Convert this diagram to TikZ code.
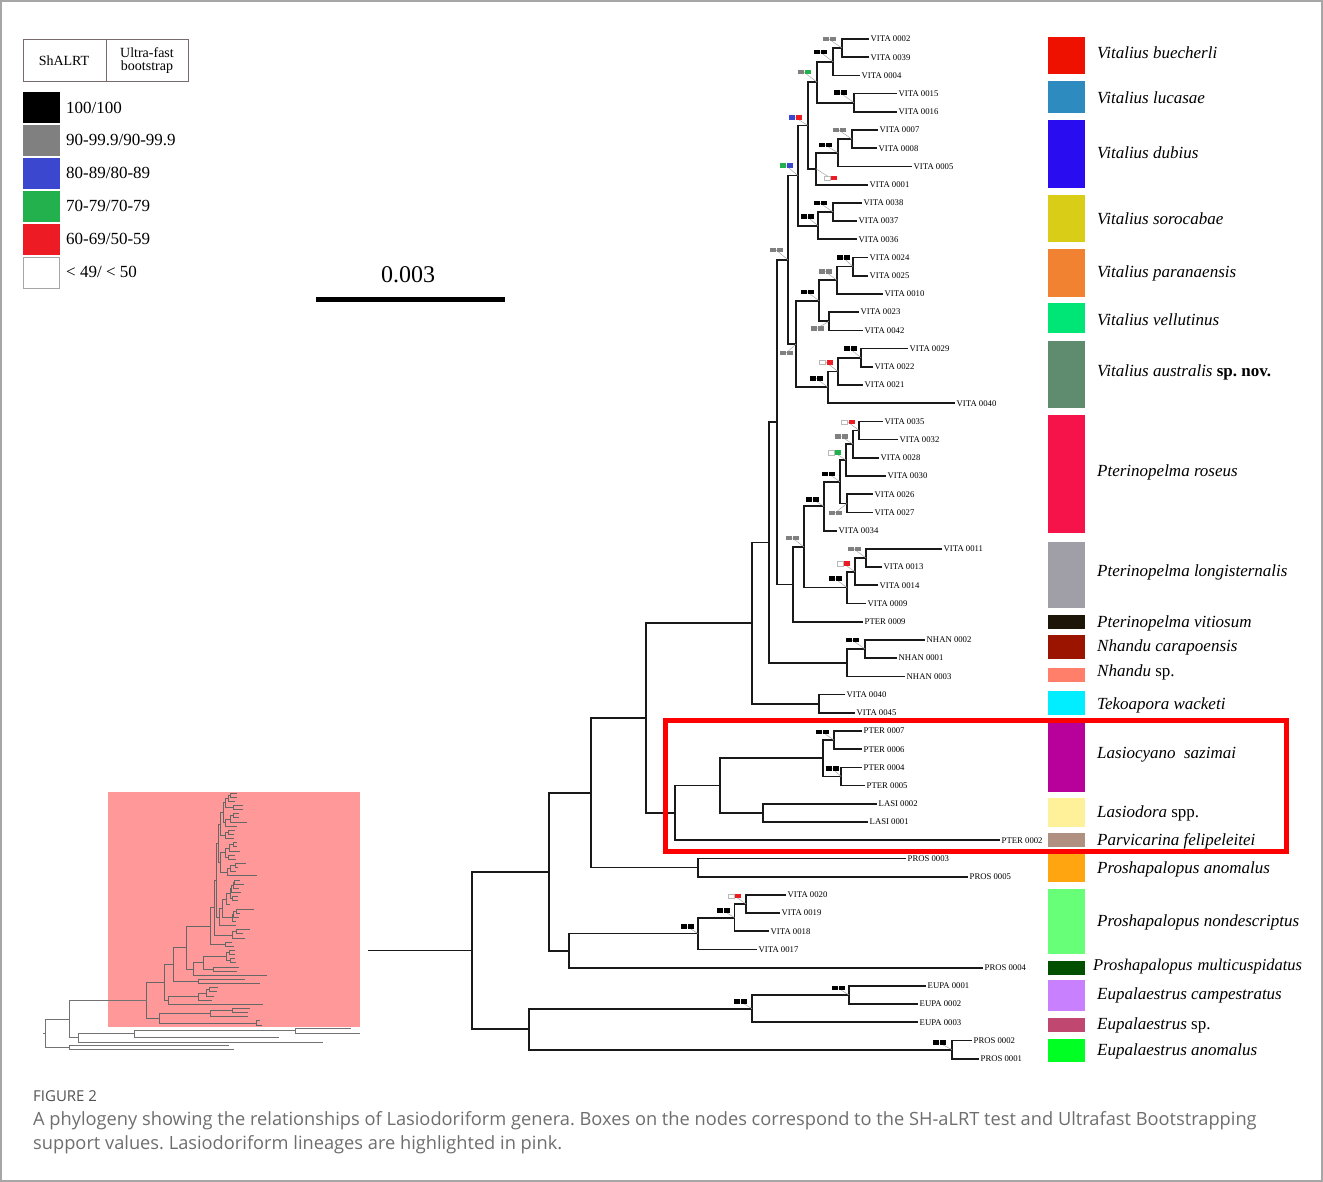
\documentclass[tikz,border=0pt]{standalone}
\usepackage{fontspec}
\setmainfont{Liberation Serif}
\newfontfamily\capfont{Open Sans}
\usetikzlibrary{calc}
\frenchspacing
\definecolor{sgray}{HTML}{808080}
\definecolor{sblue}{HTML}{3B47CE}
\definecolor{sgreen}{HTML}{22B14C}
\definecolor{sred}{HTML}{ED1C24}
\definecolor{pinkbox}{HTML}{FF9999}
\definecolor{capgray}{HTML}{6E6E6E}
\definecolor{legline}{HTML}{776B6B}

\newcommand\treebody{%
  \foreach \i/\tx in {0/869,1/869,2/860,3/897,4/897,5/878,6/877,7/912,8/868,9/862,10/857,11/857,
    12/868,13/868,14/883,15/859,16/863,17/908,18/873,19/863,20/955,21/883,22/898,23/879,24/886,
    25/873,26/873,27/837,28/942,29/882,30/878,31/866,32/863,33/925,34/897,35/905,36/845,37/855,
    38/862,39/862,40/862,41/865,42/877,43/868,44/1000,45/906,46/968,47/786,48/780,49/769,50/757,
    51/983,52/926,53/918,54/918,55/972,56/979}
    {\coordinate (t\i) at (\tx,{39+18.21*\i});}
  \foreach \n/\x/\y in {n1/842/48.1,n2/833/61.8,n3/854/102.7,n4/817/82.2,n5/852/139.2,n6/838/152.9,
    n7/816/168.8,n8/808/125.5,n9/833/212.0,n10/818/225.7,n11/798/175.6,n12/853/266.6,n13/837/280.3,
    n14/829/321.3,n15/819/300.8,n16/861/357.7,n17/838/371.4,n18/828/387.3,n19/796/344.1,n20/788/259.9,
    n21/859/430.5,n22/853/444.2,n23/846/460.1,n24/847/503.4,n25/840/481.8,n26/824/506.3,n27/866/558.0,
    n28/855/571.7,n29/847/587.6,n30/804/547.0,n31/793/584.4,n32/777/422.2,n33/865/649.0,n34/847/662.7,
    n35/769/542.5,n36/819/703.7,n37/752/623.1,n38/834/740.1,n39/841/776.5,n40/823/758.3,n41/763/812.9,
    n42/720/785.6,n43/675/812.9,n44/646/718.0,n45/698/867.6,n46/591/792.8,n47/746/904.0,n48/734.5/917.7,
    n49/698/933.6,n50/569/950.7,n51/549/871.8,n52/849/995.0,n53/752/1008.7,n54/952/1049.7,
    n55/529/1029.2,n56/472/950.5}
    {\coordinate (\n) at (\x,\y);}
  \foreach \p/\c in {n1/t0,n1/t1,n2/n1,n2/t2,n3/t3,n3/t4,n4/n2,n4/n3,n5/t5,n5/t6,n6/n5,n6/t7,
    n7/n6,n7/t8,n8/n4,n8/n7,n9/t9,n9/t10,n10/n9,n10/t11,n11/n8,n11/n10,n12/t12,n12/t13,n13/n12,
    n13/t14,n14/t15,n14/t16,n15/n13,n15/n14,n16/t17,n16/t18,n17/n16,n17/t19,n18/n17,n18/t20,
    n19/n15,n19/n18,n20/n11,n20/n19,n21/t21,n21/t22,n22/n21,n22/t23,n23/n22,n23/t24,n24/t25,
    n24/t26,n25/n23,n25/n24,n26/n25,n26/t27,n27/t28,n27/t29,n28/n27,n28/t30,n29/n28,n29/t31,
    n30/n26,n30/n29,n31/n30,n31/t32,n32/n20,n32/n31,n33/t33,n33/t34,n34/n33,n34/t35,n35/n32,
    n35/n34,n36/t36,n36/t37,n37/n35,n37/n36,n38/t38,n38/t39,n39/t40,n39/t41,n40/n38,n40/n39,
    n41/t42,n41/t43,n42/n40,n42/n41,n43/n42,n43/t44,n44/n37,n44/n43,n45/t45,n45/t46,n46/n44,
    n46/n45,n47/t47,n47/t48,n48/n47,n48/t49,n49/n48,n49/t50,n50/n49,n50/t51,n51/n46,n51/n50,
    n52/t52,n52/t53,n53/n52,n53/t54,n54/t55,n54/t56,n55/n53,n55/n54,n56/n51,n56/n55}
    {\draw[br] (\p) |- (\c);}
}

\newcommand\supp[5]{%
  \coordinate (#1c) at ($(#1)+(#2,#3)$);
  \draw[leader] (#1c) -- (#1);
  \node[sq,#4] (#1sa) at ($(#1c)+(-3.5,0)$) {};
  \node[sq,#5] (#1sb) at ($(#1c)+(3.5,0)$) {};
}

\begin{document}
\begin{tikzpicture}[x=1pt,y=-1pt,
  br/.style={line width=1.7pt,black!90},
  leader/.style={draw=gray!70,line width=0.5pt},
  sq/.style={minimum width=6pt,minimum height=4.5pt,inner sep=0pt,outer sep=0pt},
  bk/.style={fill=black},
  gy/.style={fill=sgray},
  bl/.style={fill=sblue},
  gn/.style={fill=sgreen},
  rd/.style={fill=sred},
  wt/.style={fill=white,draw=gray!55,line width=0.3pt},
  leaf/.style={anchor=west,inner sep=1.5pt,font=\fontsize{8.7}{10}\selectfont},
  spc/.style={anchor=west,inner sep=2pt,font=\fontsize{17}{20}\selectfont\itshape},
  legt/.style={anchor=west,inner sep=0pt,font=\fontsize{17}{20}\selectfont},
  insetline/.style={line width=0.8pt,black!55}]
\useasboundingbox (0,0) rectangle (1323,1182);
\fill[white] (0,0) rectangle (1323,1182);
\draw[gray!70,line width=1.5pt] (1,1) rectangle (1322,1181);

% ---------- inset ----------
\fill[pinkbox] (108,792) rectangle (360,1027);
\begin{scope}[shift={(39.3,784.1)},scale=0.2275,br/.style={line width=0.7pt,black!60}]
  \treebody
\end{scope}
\coordinate (ia) at (69,1019);
\coordinate (ib) at (69,1047);
\coordinate (ic) at (78,1037.5);
\coordinate (id) at (134,1033.5);
\coordinate (ie) at (295,1030.5);
\coordinate (ir) at (45,1033);
\coordinate (ig) at (146.7,1000.3);
\coordinate (itick) at (43,1033);
\draw[insetline] (itick) -- (ir);
\draw[insetline] (ir) |- (ia);
\draw[insetline] (ir) |- (ib);
\draw[insetline] (ia) |- (ig);
\draw[insetline] (ia) |- (ic);
\draw[insetline] (ib) |- (229,1045);
\draw[insetline] (ib) |- (234,1049.5);
\draw[insetline] (ic) |- (id);
\draw[insetline] (ic) |- (323,1042);
\draw[insetline] (id) |- (ie);
\draw[insetline] (id) |- (279,1037);
\draw[insetline] (ie) |- (351,1028);
\draw[insetline] (ie) |- (360,1033);

% ---------- main tree ----------
\treebody
\coordinate (rootstart) at (368,950.5);
\draw[br] (rootstart) -- (n56);

\foreach \i/\lab in {0/VITA 0002,1/VITA 0039,2/VITA 0004,3/VITA 0015,4/VITA 0016,5/VITA 0007,
  6/VITA 0008,7/VITA 0005,8/VITA 0001,9/VITA 0038,10/VITA 0037,11/VITA 0036,12/VITA 0024,
  13/VITA 0025,14/VITA 0010,15/VITA 0023,16/VITA 0042,17/VITA 0029,18/VITA 0022,19/VITA 0021,
  20/VITA 0040,21/VITA 0035,22/VITA 0032,23/VITA 0028,24/VITA 0030,25/VITA 0026,26/VITA 0027,
  27/VITA 0034,28/VITA 0011,29/VITA 0013,30/VITA 0014,31/VITA 0009,32/PTER 0009,33/NHAN 0002,
  34/NHAN 0001,35/NHAN 0003,36/VITA 0040,37/VITA 0045,38/PTER 0007,39/PTER 0006,40/PTER 0004,
  41/PTER 0005,42/LASI 0002,43/LASI 0001,44/PTER 0002,45/PROS 0003,46/PROS 0005,47/VITA 0020,
  48/VITA 0019,49/VITA 0018,50/VITA 0017,51/PROS 0004,52/EUPA 0001,53/EUPA 0002,54/EUPA 0003,
  55/PROS 0002,56/PROS 0001}
  {\node[leaf] (L\i) at (t\i) {\lab};}

% support boxes
\supp{n1}{-13}{-9}{gy}{gy}
\supp{n2}{-13}{-10}{bk}{bk}
\supp{n4}{-13}{-10}{gy}{gn}
\supp{n3}{-14}{-10}{bk}{bk}
\supp{n8}{-13}{-8}{bl}{rd}
\supp{n5}{-13}{-9}{gy}{gy}
\supp{n6}{-13}{-8}{bk}{bk}
\supp{n7}{14.5}{9.2}{wt}{rd}
\supp{n11}{-12}{-10}{gn}{bl}
\supp{n9}{-13}{-9}{bk}{bk}
\supp{n10}{-11}{-9}{bk}{bk}
\supp{n20}{-12}{-10}{gy}{gy}
\supp{n12}{-10}{-9}{bk}{bk}
\supp{n13}{-12}{-9}{gy}{gy}
\supp{n15}{-12}{-9}{bk}{bk}
\supp{n14}{-12}{7}{gy}{gy}
\supp{n19}{-10}{9}{gy}{gy}
\supp{n16}{-11}{-9}{bk}{bk}
\supp{n17}{-12}{-9}{wt}{rd}
\supp{n18}{-12}{-9}{bk}{bk}
\supp{n21}{-11}{-8.5}{wt}{rd}
\supp{n22}{-11.5}{-7.5}{gy}{gy}
\supp{n23}{-11.5}{-7.5}{wt}{gn}
\supp{n25}{-11.5}{-8}{bk}{bk}
\supp{n24}{-12}{9.5}{gy}{gy}
\supp{n26}{-11.5}{-7}{bk}{bk}
\supp{n30}{-11.5}{-9}{gy}{gy}
\supp{n27}{-12}{-9}{gy}{gy}
\supp{n28}{-11.5}{-8}{wt}{rd}
\supp{n29}{-12}{-9}{bk}{bk}
\supp{n33}{-13}{-9}{bk}{bk}
\supp{n38}{-11.5}{-8}{bk}{bk}
\supp{n39}{-8.5}{-8}{bk}{bk}
\supp{n47}{-11.5}{-8}{wt}{rd}
\supp{n48}{-11}{-7}{bk}{bk}
\supp{n49}{-11}{-7}{bk}{bk}
\supp{n52}{-11}{-7}{bk}{bk}
\supp{n53}{-11.5}{-7}{bk}{bk}
\supp{n54}{-13}{-7}{bk}{bk}

% ---------- legend ----------
\draw[legline,line width=1pt] (23.5,39.5) rectangle (188.5,81.5);
\draw[legline,line width=1pt] (106.5,39.5) -- (106.5,81.5);
\node[font=\fontsize{14}{16}\selectfont] (hsh) at (64,60.5) {ShALRT};
\node[font=\fontsize{14}{16}\selectfont,align=center,inner sep=0pt] (huf) at (147,61) {Ultra-fast\\[-3pt]bootstrap};
\fill[black] (23,92) rectangle (60,123);
\fill[sgray] (23,125) rectangle (60,156);
\fill[sblue] (23,158) rectangle (60,189);
\fill[sgreen] (23,191) rectangle (60,222);
\fill[sred] (23,224) rectangle (60,255);
\draw[gray!70,line width=0.8pt,fill=white] (23.5,257.5) rectangle (59.5,288.5);
\node[legt] (g1) at (66,108) {100/100};
\node[legt] (g2) at (66,140) {90-99.9/90-99.9};
\node[legt] (g3) at (66,173) {80-89/80-89};
\node[legt] (g4) at (66,206) {70-79/70-79};
\node[legt] (g5) at (66,239) {60-69/50-59};
\node[legt] (g6) at (66,272) {< 49/ < 50};

% scale bar
\draw[line width=5.5pt] (316,299.5) -- (505,299.5);
\node[font=\fontsize{24}{28}\selectfont] (scl) at (408,275) {0.003};

% ---------- species bars ----------
\foreach \ya/\yb/\col in {37/74/EE1100,81/113/2E8BC0,120/188/2A0CF0,195/242/D9CD18,249/297/F08232,
  303/333/00E676,341/408/5F8C6E,415/533/F5134A,542/608/A09FA8,615/629/1C1508,635/659/9B1400,
  668/682/FF7F6A,691/715/00EEFF,722/792/B8009A,798/827/FFF09A,833/847/B09080,853/882/FFA510,
  889/954/66FF77,961/975/005000,980/1011/C880FF,1018/1032/C04870,1039/1062/00FF22}
  {\definecolor{tmpc}{HTML}{\col}\fill[tmpc] (1048,\ya) rectangle (1085,\yb);}

\node[spc] (s1) at (1095,53) {Vitalius buecherli};
\node[spc] (s2) at (1095,98) {Vitalius lucasae};
\node[spc] (s3) at (1095,153) {Vitalius dubius};
\node[spc] (s4) at (1095,219) {Vitalius sorocabae};
\node[spc] (s5) at (1095,273) {Vitalius paranaensis};
\node[spc] (s6) at (1095,320) {Vitalius vellutinus};
\node[spc] (s7) at (1095,372) {Vitalius australis \upshape\bfseries sp. nov.};
\node[spc] (s8) at (1095,472) {Pterinopelma roseus};
\node[spc] (s9) at (1095,572) {Pterinopelma longisternalis};
\node[spc] (s10) at (1095,623) {Pterinopelma vitiosum};
\node[spc] (s11) at (1095,647) {Nhandu carapoensis};
\node[spc] (s12) at (1095,672) {Nhandu \upshape sp.};
\node[spc] (s13) at (1095,705) {Tekoapora wacketi};
\node[spc] (s14) at (1095,755) {Lasiocyano\ \ sazimai};
\node[spc] (s15) at (1095,813) {Lasiodora \upshape spp.};
\node[spc] (s16) at (1095,841) {Parvicarina felipeleitei};
\node[spc] (s17) at (1095,869) {Proshapalopus anomalus};
\node[spc] (s18) at (1095,922) {Proshapalopus nondescriptus};
\node[spc,font=\fontsize{16.5}{20}\selectfont\itshape] (s19) at (1091,967) {Proshapalopus\ \hspace{1pt}multicuspidatus};
\node[spc] (s20) at (1095,995) {Eupalaestrus campestratus};
\node[spc] (s21) at (1095,1025) {Eupalaestrus \upshape sp.};
\node[spc] (s22) at (1095,1051) {Eupalaestrus anomalus};

% highlight box
\draw[red,line width=4.5pt] (665.5,720.5) rectangle (1286.5,851.5);

% ---------- caption ----------
\node[anchor=base west,inner sep=0pt,text=black!68,font=\capfont\fontsize{15}{17}\selectfont] (figt) at (33,1101) {FIGURE 2};
\node[anchor=base west,inner sep=0pt,text=capgray,font=\capfont\fontsize{18.25}{22}\selectfont] (cap1) at (33,1125.5) {A phylogeny showing the relationships of Lasiodoriform genera. Boxes on the nodes correspond to the SH-aLRT test and Ultrafast Bootstrapping};
\node[anchor=base west,inner sep=0pt,text=capgray,font=\capfont\fontsize{18.25}{22}\selectfont] (cap2) at (33,1149.5) {support values. Lasiodoriform lineages are highlighted in pink.};
\end{tikzpicture}
\end{document}
